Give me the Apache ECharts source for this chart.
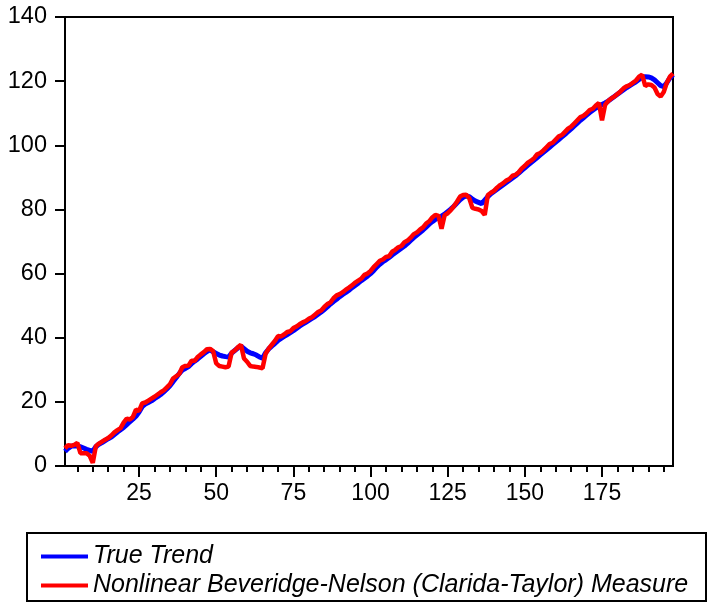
<!DOCTYPE html>
<html>
<head>
<meta charset="utf-8">
<script src="https://cdn.jsdelivr.net/npm/echarts@6/dist/echarts.min.js"></script>
<style>
  html, body { margin: 0; padding: 0; background: #fff; }
  #chart { width: 712px; height: 612px; }
</style>
</head>
<body>
<div id="chart"></div>
<script>
// Observation numbers along the x axis
const periods = Array.from({ length: 198 }, (_, i) => String(i + 1));

// Tick labels on the y axis run 0..140 by 20
const yMin = 0, yMax = 140, yStep = 20;

const seriesNames = ['True Trend', 'Nonlinear Beveridge-Nelson (Clarida-Taylor) Measure'];

// True trend, observations 1..198
const trueTrend = [
  4.5, 5.5, 6.2, 6.3, 6.2, 6.0, 5.6, 5.2, 4.9, 4.6,
  6.0, 6.8, 7.3, 7.9, 8.5, 9.0, 9.8, 10.6, 11.3, 12.0,
  12.9, 13.8, 14.6, 15.5, 16.8, 18.5, 19.3, 19.8, 20.3, 21.0,
  21.6, 22.3, 23.1, 24.0, 25.0, 26.3, 27.5, 28.8, 29.9, 30.4,
  31.0, 31.9, 32.7, 33.4, 34.2, 35.0, 35.7, 36.2, 35.6, 35.1,
  34.6, 34.3, 34.1, 34.0, 35.2, 36.0, 36.8, 37.4, 36.6, 35.8,
  35.3, 35.0, 34.6, 34.0, 33.6, 35.3, 36.5, 37.4, 38.2, 39.1,
  39.8, 40.4, 41.0, 41.6, 42.2, 42.9, 43.6, 44.2, 44.8, 45.4,
  46.0, 46.6, 47.3, 48.0, 48.8, 49.6, 50.5, 51.3, 52.0, 52.8,
  53.5, 54.1, 54.8, 55.6, 56.3, 57.0, 57.8, 58.5, 59.2, 60.0,
  60.9, 62.0, 62.9, 63.7, 64.3, 65.0, 65.8, 66.5, 67.2, 67.9,
  68.6, 69.4, 70.3, 71.2, 72.0, 72.8, 73.6, 74.5, 75.4, 76.2,
  76.9, 77.4, 77.9, 78.5, 79.3, 80.1, 81.0, 82.0, 83.0, 83.8,
  84.2, 84.0, 83.2, 82.6, 82.2, 81.8, 82.9, 84.0, 84.9, 85.6,
  86.3, 87.0, 87.7, 88.4, 89.1, 89.8, 90.5, 91.3, 92.2, 93.0,
  93.8, 94.6, 95.4, 96.2, 97.0, 97.8, 98.6, 99.4, 100.2, 101.0,
  101.8, 102.6, 103.4, 104.3, 105.1, 106.0, 106.9, 107.8, 108.6, 109.4,
  110.2, 110.9, 111.6, 112.2, 112.7, 113.2, 113.8, 114.5, 115.2, 115.9,
  116.6, 117.3, 118.0, 118.6, 119.2, 119.8, 120.5, 121.2, 121.4, 121.3,
  121.0, 120.4, 119.5, 118.6, 118.3, 119.5, 121.0, 122.0
];

// Nonlinear Beveridge-Nelson (Clarida-Taylor) measure, observations 1..198
const bnMeasure = [
  5.5, 6.5, 6.3, 6.6, 7.2, 4.0, 4.0, 4.0, 3.2, 1.0,
  6.2, 7.0, 7.6, 8.2, 8.7, 9.5, 10.5, 11.2, 11.8, 13.5,
  14.8, 14.5, 15.3, 17.6, 17.2, 19.5, 19.8, 20.4, 21.0, 21.6,
  22.3, 23.0, 23.6, 24.5, 25.5, 27.3, 28.0, 28.7, 30.8, 31.2,
  31.3, 32.8, 32.8, 34.0, 34.8, 35.5, 36.4, 36.5, 35.8, 32.0,
  31.2, 31.0, 30.8, 31.0, 35.4, 36.0, 37.0, 37.8, 33.5, 32.5,
  31.2, 31.0, 30.9, 30.7, 30.5, 35.0, 36.6, 37.8, 39.0, 40.5,
  40.4, 41.0, 41.8, 42.0, 43.0, 43.5, 44.2, 44.8, 45.2, 45.9,
  46.4, 47.2, 48.0, 48.5, 49.6, 50.5, 51.0, 52.3, 53.2, 53.6,
  54.2, 55.0, 55.6, 56.3, 57.2, 57.8, 58.4, 59.6, 60.0, 60.8,
  62.0, 63.0, 64.0, 64.4, 65.2, 65.4, 66.8, 67.4, 68.2, 68.6,
  69.8, 70.3, 71.2, 72.3, 72.8, 73.7, 74.4, 75.6, 76.3, 77.5,
  78.3, 78.0, 74.0, 78.2, 78.8, 79.8, 81.0, 82.4, 84.0, 84.5,
  84.6, 83.5, 80.5, 80.2, 80.0, 79.5, 78.3, 84.5, 85.2, 85.8,
  86.8, 87.6, 88.2, 89.0, 89.5, 90.5, 90.8, 91.6, 92.8, 93.6,
  94.6, 95.2, 96.0, 97.2, 97.6, 98.4, 99.4, 100.4, 100.8, 101.8,
  102.8, 103.2, 104.2, 105.2, 105.8, 106.8, 107.8, 108.8, 109.2, 110.0,
  111.0, 111.4, 112.4, 113.2, 107.8, 112.6, 113.8, 114.6, 115.2, 116.0,
  116.8, 117.8, 118.4, 118.8, 119.5, 120.2, 121.4, 122.0, 118.5, 119.0,
  118.8, 118.0, 116.0, 115.2, 116.6, 119.5, 121.4, 122.4
];

const FONT = "'Liberation Sans', Arial, sans-serif";
const chart = echarts.init(document.getElementById('chart'), null, { renderer: 'canvas' });

chart.setOption({
  animation: false,
  backgroundColor: '#fff',
  grid: {
    left: 65, right: 39, top: 17, bottom: 146,
    show: true, borderColor: '#000', borderWidth: 2, backgroundColor: 'transparent'
  },
  xAxis: [
    {
      type: 'category',
      data: periods,
      boundaryGap: false,
      axisLine: { lineStyle: { color: '#000', width: 2 } },
      axisTick: {
        inside: false, length: 11,
        interval: (idx) => (idx + 1) % 25 === 0,
        lineStyle: { color: '#000', width: 2 }
      },
      axisLabel: {
        interval: (idx) => (idx + 1) % 25 === 0,
        margin: 16, color: '#000', fontSize: 23, fontFamily: FONT
      },
      splitLine: { show: false }
    },
    {
      // short ticks every 5 observations
      type: 'category',
      data: periods,
      boundaryGap: false,
      position: 'bottom',
      axisLine: { show: false },
      axisTick: {
        inside: false, length: 6,
        interval: (idx) => (idx + 1) % 5 === 0,
        lineStyle: { color: '#000', width: 2 }
      },
      axisLabel: { show: false },
      splitLine: { show: false }
    }
  ],
  yAxis: {
    type: 'value',
    min: yMin, max: yMax, interval: yStep,
    axisLine: { show: true, lineStyle: { color: '#000', width: 2 } },
    axisTick: { show: true, inside: false, length: 10, lineStyle: { color: '#000', width: 2 } },
    axisLabel: { margin: 18, color: '#000', fontSize: 23.5, fontFamily: FONT },
    splitLine: { show: false }
  },
  legend: {
    orient: 'vertical',
    left: 36, top: 539,
    itemGap: 4,
    itemWidth: 47, itemHeight: 4,
    icon: 'rect',
    data: seriesNames,
    textStyle: {
      color: '#000', fontSize: 25, fontStyle: 'italic', fontFamily: FONT,
      lineHeight: 24
    }
  },
  graphic: [
    {
      type: 'rect',
      shape: { x: 27, y: 533, width: 679, height: 68 },
      style: { fill: 'none', stroke: '#000', lineWidth: 2 },
      silent: true
    }
  ],
  series: [
    {
      name: seriesNames[0], type: 'line', data: trueTrend,
      showSymbol: false, symbol: 'none',
      lineStyle: { color: '#0000ff', width: 5 }, itemStyle: { color: '#0000ff' },
      z: 2
    },
    {
      name: seriesNames[1], type: 'line', data: bnMeasure,
      showSymbol: false, symbol: 'none',
      lineStyle: { color: '#ff0000', width: 4.5 }, itemStyle: { color: '#ff0000' },
      z: 3
    }
  ]
});
</script>
</body>
</html>
